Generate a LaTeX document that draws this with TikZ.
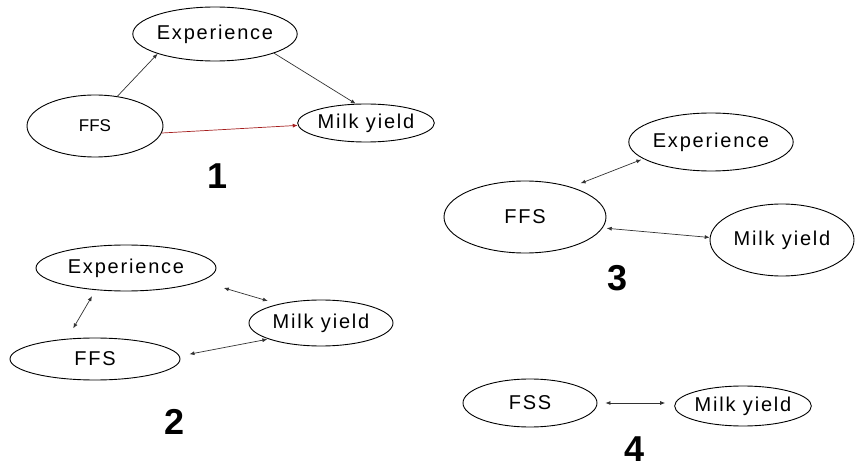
\documentclass[tikz,border=0pt]{standalone}
\usepackage{fontspec}
\setmainfont{Liberation Sans}
\newfontfamily\spaced[LetterSpace=9]{Liberation Sans}
\usetikzlibrary{shapes.geometric,arrows.meta}
\definecolor{linkred}{RGB}{165,30,30}
\definecolor{linkgray}{RGB}{50,50,50}
\tikzset{
  oval/.style={ellipse, draw=black, line width=0.9pt, inner sep=0pt,
    font=\spaced\fontsize{20}{22}\selectfont},
  link/.style={draw=linkgray, line width=0.7pt},
  tip/.style={-{Latex[length=5pt,width=4pt]}},
  both/.style={{Latex[length=5pt,width=4pt]}-{Latex[length=5pt,width=4pt]}},
  panel/.style={font=\bfseries\fontsize{36}{40}\selectfont, inner sep=0pt}
}
\begin{document}
\begin{tikzpicture}[x=1pt,y=-1pt]
\useasboundingbox (0,0) rectangle (855,468);

% ---- model 1: direct and mediated effect
\node[oval, minimum width=162pt, minimum height=54pt] (exp1) at (215,34) {Experience};
\node[oval, minimum width=136pt, minimum height=62pt, font=\fontsize{17}{19}\selectfont] (ffs1) at (95,126) {FFS};
\node[oval, minimum width=126pt, minimum height=38pt] (milk1) at (366,123) {Milk yield};
\draw[link, tip] (ffs1.53) -- (exp1.199);
\draw[link, tip] (exp1.-18) -- (milk1.118);
\draw[link, tip, draw=linkred] (ffs1.-6) -- (milk1.182);
\node[panel] (n1) at (218,176) {1};

% ---- model 2: all pairs associated
\node[oval, minimum width=180pt, minimum height=46pt] (exp2) at (126,268) {Experience};
\node[oval, minimum width=170pt, minimum height=42pt] (ffs2) at (95,359) {FFS};
\node[oval, minimum width=144pt, minimum height=46pt] (milk2) at (321,323) {Milk yield};
\draw[link, both, shorten <=7pt, shorten >=12pt] (exp2.216) -- (ffs2.144);
\draw[link, both, shorten <=24pt, shorten >=11pt] (exp2.-10) -- (milk2.156);
\draw[link, both, shorten <=10pt, shorten >=1pt] (ffs2.2) -- (milk2.197);
\node[panel] (n2) at (175,422) {2};

% ---- model 3: FFS associated with each
\node[oval, minimum width=144pt, minimum height=58pt] (exp3) at (711,142) {Experience};
\node[oval, minimum width=162pt, minimum height=72pt] (ffs3) at (525,217) {FFS};
\node[oval, minimum width=144pt, minimum height=72pt] (milk3) at (782,240) {Milk yield};
\draw[link, both, shorten <=2pt, shorten >=10pt] (exp3.194) -- (ffs3.33);
\draw[link, both, shorten <=4pt] (ffs3.-8) -- (milk3.178);
\node[panel] (n3) at (618,278) {3};

% ---- model 4: single association
\node[oval, minimum width=134pt, minimum height=48pt] (fss4) at (530,403) {FSS};
\node[oval, minimum width=134pt, minimum height=40pt] (milk4) at (743,406) {Milk yield};
\draw[link, both, shorten <=8pt, shorten >=9pt] (fss4.east) -- (fss4.east -| milk4.west);
\node[panel] (n4) at (635,449) {4};
\end{tikzpicture}
\end{document}
